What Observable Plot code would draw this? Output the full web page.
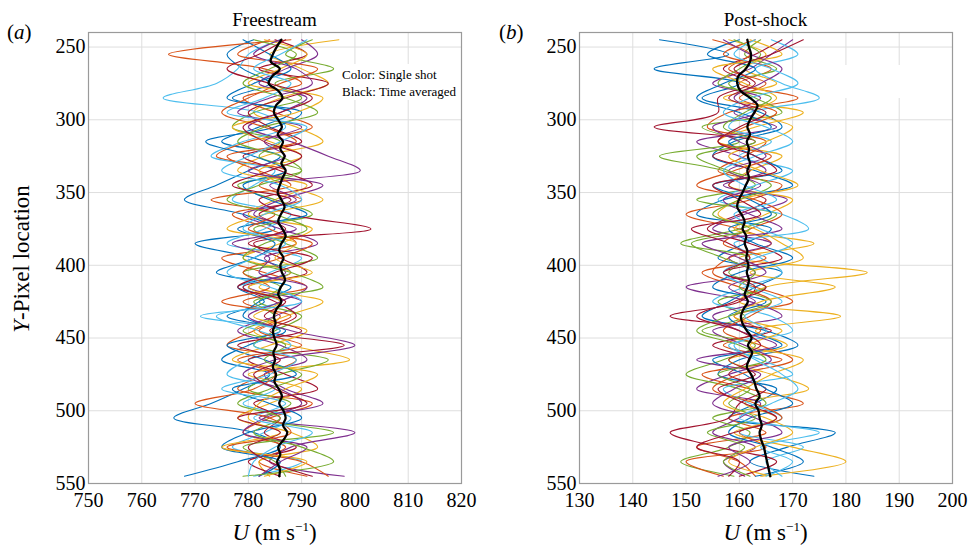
<!DOCTYPE html>
<html>
<head>
<meta charset="utf-8">
<script src="https://cdn.jsdelivr.net/npm/d3@7"></script>
<script src="https://cdn.jsdelivr.net/npm/@observablehq/plot@0.6"></script>
<style>
  html, body { margin: 0; padding: 0; background: #fff; }
  #wrap { position: relative; width: 971px; height: 548px; font-family: "Liberation Serif", "Times New Roman", serif; color: #000; overflow: hidden; }
  #wrap svg { position: absolute; top: 0; }
  #wrap svg text { font-family: "Liberation Serif", serif !important; fill: #000; }
  .lbl { position: absolute; white-space: nowrap; line-height: 1; }
</style>
</head>
<body>
<div id="wrap"></div>
<script>
// ---------- data ----------
const yTicks = [250, 300, 350, 400, 450, 500, 550];
const xTicksA = [750, 760, 770, 780, 790, 800, 810, 820];
const xTicksB = [130, 140, 150, 160, 170, 180, 190, 200];
const shotColors = ["#0072BD", "#D95319", "#EDB120", "#7E2F8E", "#77AC30", "#4DBEEE", "#A2142F"];

// Y-pixel locations of single-shot samples
const yShot = [245,255,265,275,285,295,305,315,325,335,345,355,365,375,385,395,405,415,425,435,445,455,465,475,485,495,505,515,525,535,545];
// Y-pixel locations of time-averaged samples
const yMean = [245,250,255,260,265,270,275,280,285,290,295,300,305,310,315,320,325,330,335,340,345,350,355,360,365,370,375,380,385,390,395,400,405,410,415,420,425,430,435,440,445,450,455,460,465,470,475,480,485,490,495,500,505,510,515,520,525,530,535,540,545];

// (a) Freestream single shots, U (m/s)
const freeA1  = [781,776,779,784,777,788,782,775,786,780,774,768,779,785,770,781,788,778,783,776,787,780,775,784,779,773,766,781,786,778,768];
const freeA2  = [788,765,783,790,779,785,792,780,774,787,782,790,777,784,789,775,783,791,779,786,781,776,789,783,778,792,784,779,787,782,791];
const freeA3  = [797,784,790,795,786,781,789,794,783,778,791,785,780,792,786,779,788,782,794,787,781,788,799,780,790,784,778,788,793,782,784];
const freeA4  = [790,793,787,782,791,786,780,788,795,801,784,789,779,786,793,783,787,780,790,785,778,786,791,783,787,794,782,800,788,784,798];
const freeA5  = [792,787,796,785,790,781,777,786,782,790,778,785,792,781,787,793,779,786,782,790,785,781,795,786,780,788,783,796,779,785,787];
const freeA6  = [786,780,778,774,764,782,787,779,773,785,781,777,788,783,776,790,784,779,786,774,782,788,780,776,785,779,788,783,777,790,781];
const freeA7  = [785,791,782,795,787,780,784,790,779,786,792,782,788,803,781,786,791,779,785,789,784,798,780,787,793,781,786,783,789,780,786];
const freeA8  = [779,784,788,781,776,790,785,772,781,787,779,784,791,778,785,781,774,788,782,779,786,776,783,789,777,784,790,780,775,786,782];
const freeA9  = [784,778,793,786,780,775,783,789,776,782,788,773,785,780,792,786,779,784,775,788,782,790,778,785,781,770,784,788,776,790,795];
const freeA10 = [783,791,786,780,794,789,777,784,790,782,787,794,783,776,789,785,792,780,786,781,791,784,777,793,787,782,780,786,775,791,783];
const freeA11 = [786,781,789,792,784,778,790,783,787,780,794,786,781,789,777,784,782,791,786,780,788,800,785,779,786,790,783,779,791,786,782];
const freeA12 = [781,789,784,779,787,793,783,778,786,790,782,776,785,791,783,779,788,794,781,785,779,787,783,790,784,778,786,781,790,796,779];
const freeA13 = [791,786,781,788,783,776,791,786,780,775,786,790,783,779,787,781,776,784,790,771,786,781,789,784,775,787,781,792,785,781,780];
const freeA14 = [787,782,776,784,792,786,779,783,790,784,777,788,782,787,780,792,785,778,787,783,790,778,786,781,785,791,778,786,780,784,792];
const freeMean = [786.2,785.3,784.6,784.2,785.9,784.5,783.8,785.6,786.4,785.2,784.8,785.6,786.3,785.5,786.5,786.0,786.8,786.2,787.0,786.4,785.9,785.5,786.2,786.8,786.1,785.6,786.4,787.0,786.2,785.8,786.6,786.0,786.3,786.9,786.1,785.6,786.2,785.3,784.8,785.1,784.6,784.9,785.3,784.7,785.0,784.6,785.2,784.9,785.7,786.3,785.8,786.6,787.0,786.5,787.3,786.6,785.6,786.0,785.4,785.9,785.8];

// (b) Post-shock single shots, U (m/s)
const postB1  = [145,158,144,160,153,164,168,159,155,163,170,157,152,166,161,156,168,163,158,153,165,171,160,156,167,163,158,178,169,162,174];
const postB2  = [163,157,166,160,171,158,154,165,161,156,168,162,150,160,166,158,155,163,170,159,164,157,168,153,162,172,158,165,152,160,163];
const postB3  = [158,165,161,167,157,172,163,156,168,162,158,170,165,159,174,160,184,165,160,179,163,169,158,166,173,161,167,159,170,180,164];
const postB4  = [170,166,162,155,164,159,167,152,160,165,157,169,161,155,166,158,163,150,162,168,155,161,166,158,152,164,160,155,163,157,161];
const postB5  = [164,161,167,158,163,168,153,160,145,157,163,152,167,160,149,162,158,165,156,161,153,163,157,150,160,165,155,162,158,149,159];
const postB6  = [166,171,163,168,175,162,158,166,160,170,163,156,168,173,159,164,168,161,155,166,170,158,164,170,157,162,168,160,172,165,168];
const postB7  = [168,163,157,162,156,156,144,163,155,162,158,165,160,154,162,168,157,163,160,147,166,155,162,158,165,160,158,147,156,167,160];
const postB8  = [160,154,163,157,152,160,166,158,163,168,155,162,166,158,163,170,160,155,165,158,162,168,155,161,165,170,162,158,166,172,163];
const postB9  = [155,162,158,165,160,167,161,156,166,159,152,163,168,162,157,165,153,160,166,162,157,164,170,160,155,163,168,160,165,150,157];
const postB10 = [162,168,155,161,167,163,170,165,158,164,171,160,156,163,168,172,162,178,164,159,168,162,172,166,161,157,165,170,163,158,166];
const postB11 = [157,162,168,164,159,163,155,160,165,158,164,157,162,168,153,160,165,158,163,155,160,167,152,164,159,155,163,168,158,162,156];
const postB12 = [159,164,160,156,166,161,157,163,152,158,166,160,155,162,151,157,163,160,166,158,152,160,165,156,162,158,163,154,161,157,162];
const postB13 = [163,159,166,171,162,157,165,170,163,157,161,167,159,164,170,163,157,162,168,161,165,159,163,168,171,166,160,175,164,170,165];
const postB14 = [172,166,159,163,158,165,160,156,163,167,155,160,164,151,158,162,157,165,159,152,160,164,158,163,156,161,167,159,152,160,158];
const postMean = [161.5,161.8,162.2,162.0,161.2,159.8,159.6,160.2,162.0,163.4,162.8,162.0,161.5,162.0,161.4,161.8,161.6,162.0,161.5,161.8,161.2,160.6,159.9,159.6,160.4,161.0,160.6,161.3,161.0,161.5,161.3,161.7,161.4,161.8,161.5,161.0,161.6,160.8,160.3,160.6,161.4,162.3,161.6,162.4,161.8,161.4,162.2,162.8,163.2,163.8,163.0,163.6,163.8,164.2,163.8,164.1,164.6,164.9,165.2,165.5,165.8];

const freeShots = [freeA1,freeA2,freeA3,freeA4,freeA5,freeA6,freeA7,freeA8,freeA9,freeA10,freeA11,freeA12,freeA13,freeA14];
const postShots = [postB1,postB2,postB3,postB4,postB5,postB6,postB7,postB8,postB9,postB10,postB11,postB12,postB13,postB14];

// ---------- drawing ----------
function panel(shots, mean, xDomain, xTicks, margins) {
  const shotRows = shots.map((s, k) => s.map((u, i) => ({u, y: yShot[i], k})));
  const meanRows = mean.map((u, i) => ({u, y: yMean[i]}));
  const marks = [
    Plot.gridX(xTicks, {stroke: "#dedede", strokeOpacity: 1}),
    Plot.gridY(yTicks, {stroke: "#dedede", strokeOpacity: 1}),
    ...shotRows.map((rows, k) => Plot.line(rows, {x: "u", y: "y", stroke: shotColors[k % 7], strokeWidth: 1.1, curve: "catmull-rom"})),
    Plot.line(meanRows, {x: "u", y: "y", stroke: "#000", strokeWidth: 2.3, curve: "catmull-rom"}),
    Plot.frame({stroke: "#9a9a9a", strokeWidth: 1.2}),
    Plot.axisX(xTicks, {tickSize: 0, tickPadding: 9, label: null, fontFamily: "Liberation Serif", fontSize: 20}),
    Plot.axisY(yTicks, {tickSize: 0, tickPadding: 3, label: null, fontFamily: "Liberation Serif", fontSize: 20})
  ];
  return Plot.plot({
    width: 485, height: 548,
    marginTop: 32, marginBottom: 65, marginLeft: margins[0], marginRight: margins[1],
    x: {domain: xDomain},
    y: {domain: [240, 550], reverse: true},
    style: {fontFamily: "'Liberation Serif', serif", fontSize: "20px", color: "#000", background: "transparent", overflow: "visible"},
    marks
  });
}

const wrap = document.getElementById("wrap");
const svgA = panel(freeShots, freeMean, [750, 820], xTicksA, [88, 24]);
svgA.style.left = "0px";
wrap.appendChild(svgA);
const svgB = panel(postShots, postMean, [130, 200], xTicksB, [94, 18]);
svgB.style.left = "485px";
wrap.appendChild(svgB);

function label(html, css) {
  const d = document.createElement("div");
  d.className = "lbl";
  d.innerHTML = html;
  Object.assign(d.style, css);
  wrap.appendChild(d);
  return d;
}
// legend boxes
label("", {left: "338px", top: "64px", width: "121px", height: "36px", background: "#fff"});
label("", {left: "843px", top: "65px", width: "98px", height: "33px", background: "#fff"});
label("Color: Single shot", {left: "342px", top: "68px", fontSize: "13px"});
label("Black: Time averaged", {left: "342px", top: "85px", fontSize: "13px"});
// titles
label("Freestream", {left: "274.5px", top: "10px", fontSize: "19px", transform: "translateX(-50%)"});
label("Post-shock", {left: "765.5px", top: "10px", fontSize: "19px", transform: "translateX(-50%)"});
label("(<i>a</i>)", {left: "7px", top: "22px", fontSize: "21px"});
label("(<i>b</i>)", {left: "499px", top: "22px", fontSize: "21px"});
// axis labels
label("<i>U</i> (m s<sup style='font-size:13px;vertical-align:9px'>−1</sup>)", {left: "274.5px", top: "520px", fontSize: "23px", transform: "translateX(-50%)"});
label("<i>U</i> (m s<sup style='font-size:13px;vertical-align:9px'>−1</sup>)", {left: "765.5px", top: "520px", fontSize: "23px", transform: "translateX(-50%)"});
label("<i>Y</i>-Pixel location", {left: "21px", top: "259px", fontSize: "23px", transform: "translate(-50%,-50%) rotate(-90deg)"});
</script>
</body>
</html>
